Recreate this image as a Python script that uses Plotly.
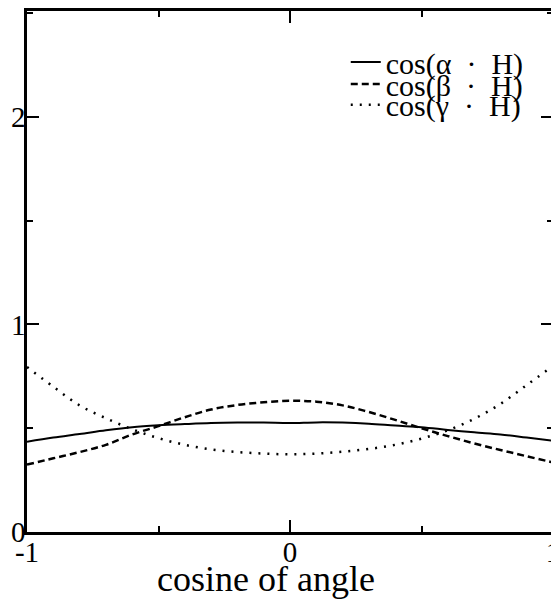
import plotly.graph_objects as go

# cosine of angle
x_vals = [-1.0, -0.9, -0.8, -0.7, -0.6, -0.5, -0.4, -0.3, -0.2, -0.1, 0.0,
          0.1, 0.2, 0.3, 0.4, 0.5, 0.6, 0.7, 0.8, 0.9, 1.0]

alpha_vals = [0.435, 0.455, 0.472, 0.490, 0.505, 0.514, 0.520, 0.525, 0.527, 0.527, 0.525,
              0.528, 0.527, 0.522, 0.513, 0.505, 0.492, 0.480, 0.470, 0.455, 0.440]

beta_vals = [0.325, 0.355, 0.385, 0.420, 0.470, 0.510, 0.553, 0.590, 0.612, 0.625, 0.632,
             0.628, 0.610, 0.578, 0.540, 0.500, 0.462, 0.427, 0.395, 0.365, 0.335]

gamma_vals = [0.795, 0.700, 0.610, 0.548, 0.495, 0.452, 0.420, 0.398, 0.385, 0.378, 0.374,
              0.378, 0.387, 0.400, 0.420, 0.450, 0.490, 0.545, 0.617, 0.708, 0.800]

names = ["cos(α\u2002·\u2002H)", "cos(β\u2002·\u2002H)", "cos(γ\u2002·\u2002H)"]
x_ticks = [-1, 0, 1]
x_tick_text = ["-1", "0", "1"]
y_ticks = [0, 1, 2]
y_tick_text = ["0", "1", "2"]
x_title = "cosine of angle"

FONT = "Liberation Serif"

fig = go.Figure()
fig.add_trace(go.Scatter(x=x_vals, y=alpha_vals, mode="lines", name=names[0],
                         line=dict(color="black", width=2, dash="solid", shape="spline"),
                         legend="legend", showlegend=True))
fig.add_trace(go.Scatter(x=x_vals, y=beta_vals, mode="lines", name=names[1],
                         line=dict(color="black", width=2.5, dash="7px,4px", shape="spline"),
                         legend="legend2", showlegend=True))
fig.add_trace(go.Scatter(x=x_vals, y=gamma_vals, mode="lines", name=names[2],
                         line=dict(color="black", width=2.5, dash="2px,7px", shape="spline"),
                         legend="legend3", showlegend=True))

leg_common = dict(font=dict(family=FONT, size=30, color="black"), bgcolor="rgba(0,0,0,0)",
                  xanchor="left", yanchor="middle", itemwidth=30, tracegroupgap=0,
                  borderwidth=0, visible=True)
fig.update_layout(
    showlegend=True,
    legend=dict(x=0.606, y=0.902, **leg_common),
    legend2=dict(x=0.606, y=0.860, **leg_common),
    legend3=dict(x=0.606, y=0.820, **leg_common),
)

axis_common = dict(showline=True, linecolor="black", linewidth=2.5, mirror="allticks",
                   ticks="inside", ticklen=12, tickwidth=2, tickcolor="black",
                   showgrid=False, zeroline=False, automargin=False,
                   ticklabeloverflow="allow",
                   tickfont=dict(family=FONT, size=29, color="black"))

fig.update_xaxes(range=[-1, 1], tickvals=x_ticks, ticktext=x_tick_text,
                 ticklabelstandoff=-8,
                 minor=dict(dtick=0.5, tick0=0, ticks="inside", ticklen=6, tickwidth=2,
                            tickcolor="black", showgrid=False),
                 **axis_common)
fig.update_yaxes(range=[0, 2.51], tickvals=y_ticks, ticktext=y_tick_text,
                 ticklabelstandoff=-7,
                 minor=dict(dtick=0.5, tick0=0, ticks="inside", ticklen=6, tickwidth=2,
                            tickcolor="black", showgrid=False),
                 **axis_common)

fig.add_annotation(text=x_title, xref="paper", yref="paper", x=0.455, y=-0.09,
                   xanchor="center", yanchor="middle", showarrow=False,
                   font=dict(family=FONT, size=36, color="black"))

# page body has an 8px default margin: size the figure to fit inside the window
fig.update_layout(
    width=551, height=593,
    margin=dict(l=19, r=6, t=3, b=69, autoexpand=False),
    paper_bgcolor="white", plot_bgcolor="white",
    font=dict(family=FONT, color="black"),
)

fig.write_html("out.html")
